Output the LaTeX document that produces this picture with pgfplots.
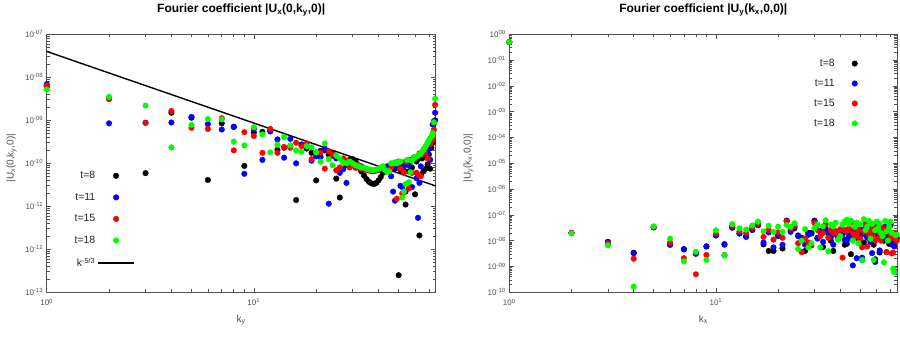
\documentclass[border=0pt]{standalone}
\usepackage{fontspec}
\setmainfont{Liberation Sans}
\usepackage{pgfplots}
\usepackage{pgfplotstable}
\pgfplotsset{compat=1.18}

\definecolor{axgray}{RGB}{80,80,80}
\definecolor{ptgreen}{RGB}{0,255,0}
\definecolor{ptblue}{RGB}{0,0,255}
\definecolor{ptred}{RGB}{255,0,0}

% |U_x(0,k_y,0)|
\pgfplotstableread{
k bk bl rd gr
1 6.2e-9 6.9e-9 6.4e-9 5.2e-9
2 3.3e-9 8.5e-10 3.1e-9 3.5e-9
3 5.9e-11 8.8e-10 8.7e-10 2.2e-9
4 1.5e-9 8.9e-10 1.65e-9 2.35e-10
5 1.15e-9 1.2e-9 6.7e-10 7.8e-10
6 4.1e-11 8.1e-10 6.3e-10 1.07e-9
7 8.5e-10 6.1e-10 1.12e-9 1.05e-9
8 7.0e-10 7.1e-10 2.0e-10 3.2e-10
9 8.7e-11 5.7e-11 5.3e-10 2.6e-10
10 5.2e-10 6.3e-10 4.3e-10 6.9e-10
11 5.4e-10 1.2e-10 1.75e-10 4.7e-10
12 5.8e-10 5.5e-10 6.3e-10 1.8e-10
13 2.05e-10 3.6e-10 1.75e-10 2.7e-10
14 2.3e-10 1.35e-10 2.4e-10 4.1e-10
15 2.5e-10 3.7e-10 2.3e-10 2.6e-10
16 1.4e-11 1.0e-10 3.0e-10 2.0e-10
17 2.6e-10 2.75e-10 2.5e-10 1.85e-10
18 2.2e-10 2.4e-10 2.9e-10 2.5e-10
19 1.75e-10 1.15e-10 1.25e-10 2.35e-10
20 4.0e-11 1.45e-10 1.8e-10 1.8e-10
21 1.95e-10 1.4e-10 1.8e-10 1.1e-10
22 2.0e-10 2.2e-10 7.5e-11 2.9e-10
23 1.6e-10 1.15e-11 1.9e-10 1.25e-10
24 1.7e-10 1.5e-10 1.6e-10 9.0e-11
25 4.4e-11 1.3e-10 6.9e-11 1.5e-10
26 1.6e-11 6.0e-11 8.0e-11 1.3e-10
27 1.25e-10 7.3e-11 1.3e-10 1.05e-10
28 9.0e-11 3.5e-11 1.15e-10 1.0e-10
29 1.2e-10 1.0e-10 8.0e-11 1.1e-10
30 1.25e-10 9.0e-11 9.5e-11 1.0e-10
31 1.1e-10 8.5e-11 7.8e-11 9.0e-11
32 9.0e-11 8.0e-11 9.0e-11 8.5e-11
33 6.5e-11 8.5e-11 7.5e-11 8.0e-11
34 5.2e-11 7.5e-11 7.5e-11 8.0e-11
35 4.3e-11 7.0e-11 7.0e-11 7.5e-11
36 3.7e-11 6.8e-11 7.0e-11 7.2e-11
37 3.4e-11 6.6e-11 6.8e-11 7.0e-11
38 3.3e-11 6.6e-11 6.8e-11 7.0e-11
39 3.5e-11 6.8e-11 7.0e-11 7.2e-11
40 4.0e-11 7.0e-11 7.2e-11 7.5e-11
41 4.8e-11 7.4e-11 7.8e-11 8.0e-11
42 6.0e-11 7.8e-11 8.0e-11 8.5e-11
43 7.2e-11 8.2e-11 7.0e-11 7.0e-11
44 8.0e-11 8.5e-11 6.5e-11 6.3e-11
45 8.5e-11 8.0e-11 7.0e-11 6.5e-11
46 9.0e-11 5.0e-11 8.0e-11 1.0e-10
47 9.0e-11 2.2e-11 9.5e-11 1.0e-10
48 7.5e-11 1.35e-11 1.0e-10 1.05e-10
49 8.5e-11 8.0e-11 1.5e-11 1.0e-10
50 2.5e-13 9.5e-11 1.1e-10 1.05e-10
51 7.0e-11 3.0e-11 7.5e-11 1.1e-10
52 9.5e-11 2.8e-11 2.0e-11 1.6e-11
53 6.8e-11 8.5e-11 6.0e-11 2.2e-11
54 1.1e-11 2.2e-11 1.1e-10 3.3e-11
55 1.15e-10 1.0e-10 1.1e-10 1.2e-10
56 6.5e-11 9.0e-11 2.6e-11 3.6e-11
57 1.1e-10 1.15e-10 1.2e-10 6.2e-11
58 8.0e-11 2.8e-11 6.0e-11 1.15e-10
59 1.2e-10 1.3e-10 1.35e-10 1.3e-10
60 1.9e-11 1.4e-10 1.25e-10 1.4e-10
61 1.1e-10 4.5e-11 6.0e-11 1.45e-10
62 1.25e-10 5.4e-12 5.5e-11 1.5e-10
63 2.1e-12 3.5e-11 1.7e-10 1.6e-10
64 5.5e-11 8.5e-11 5.0e-11 1.7e-10
65 1.3e-10 1.75e-10 1.6e-10 1.9e-10
66 6.5e-11 1.6e-10 2.0e-10 2.1e-10
67 1.5e-10 2.2e-10 1.8e-10 2.3e-10
68 7.6e-11 2.3e-10 2.6e-10 2.6e-10
69 9.5e-11 1.8e-10 1.3e-10 3.0e-10
70 1.6e-10 2.2e-10 3.0e-10 3.4e-10
71 7.5e-11 1.2e-10 2.8e-10 3.8e-10
72 2.3e-10 3.2e-10 3.3e-10 4.2e-10
73 3.0e-10 8.0e-10 3.5e-10 5.0e-10
74 8.5e-10 9.5e-10 6.0e-10 9.0e-10
75 1.0e-9 1.5e-9 2.3e-9 3.2e-9
}\ux

% |U_y(k_x,0,0)|
\pgfplotstableread{
k bk bl rd gr
1 0.5 0.5 0.5 0.5
2 2.0e-8 2.0e-8 2.0e-8 1.9e-8
3 9.0e-9 8.9e-9 7.9e-9 6.6e-9
4 3.4e-9 3.3e-9 2.0e-9 1.65e-10
5 3.3e-8 3.3e-8 3.4e-8 3.6e-8
6 7.0e-9 7.0e-9 8.5e-9 1.2e-8
7 4.7e-9 4.6e-9 2.1e-9 1.6e-9
8 3.3e-9 3.1e-9 5.0e-10 3.7e-9
9 6.0e-9 6.0e-9 2.8e-9 1.8e-9
10 1.6e-8 1.6e-8 1.9e-8 2.5e-8
11 7.3e-9 7.0e-9 2.8e-9 2.7e-9
12 3.2e-8 3.3e-8 3.8e-8 4.4e-8
13 1.9e-8 1.9e-8 2.3e-8 3.0e-8
14 1.5e-8 1.4e-8 2.0e-8 2.7e-8
15 2.6e-8 2.7e-8 3.2e-8 3.9e-8
16 4.0e-8 4.2e-8 4.6e-8 5.5e-8
17 7.2e-9 8.5e-9 1.4e-8 2.3e-8
18 4.0e-9 2.1e-8 2.6e-8 3.8e-8
19 4.0e-9 5.5e-9 1.1e-8 2.2e-8
20 1.5e-8 1.6e-8 2.1e-8 3.5e-8
21 5.0e-9 7.0e-9 1.3e-8 2.2e-8
22 6.0e-8 5.8e-8 5.5e-8 4.0e-8
23 2.5e-8 2.2e-8 3.0e-8 3.5e-8
24 3.5e-8 3.0e-8 3.8e-8 4.8e-8
25 1.6e-8 1.5e-8 8.0e-9 4.8e-9
26 1.3e-8 1.1e-8 3.6e-9 1.0e-8
27 4.0e-9 7.0e-9 1.2e-8 2.8e-8
28 2.0e-8 1.7e-8 8.5e-9 5.5e-9
29 2.0e-8 1.9e-8 6.5e-9 8.0e-9
30 6.0e-8 5.5e-8 4.8e-8 3.0e-8
31 1.3e-8 1.2e-8 2.6e-8 4.2e-8
32 2.2e-8 2.4e-8 1.5e-8 5.5e-9
33 5.7e-9 9.0e-9 2.0e-8 3.6e-8
34 2.6e-8 2.9e-8 4.5e-8 6.2e-8
35 1.9e-8 2.2e-8 1.3e-8 3.9e-9
36 1.0e-8 1.4e-8 2.6e-8 4.2e-8
37 4.0e-9 7.0e-9 2.0e-8 3.6e-8
38 2.2e-8 1.8e-8 2.4e-8 5.0e-8
39 1.2e-8 1.5e-8 1.8e-8 1.1e-8
40 2.0e-8 2.3e-8 2.8e-8 1.5e-8
41 1.7e-8 1.9e-8 2.2e-9 4.2e-8
42 7.0e-9 1.1e-8 2.6e-8 5.6e-8
43 7.5e-9 1.0e-8 2.3e-8 6.5e-8
44 2.0e-8 1.4e-8 3.0e-8 4.5e-8
45 3.0e-9 2.5e-8 5.0e-8 6.0e-8
46 1.7e-8 1.1e-9 2.0e-8 1.0e-8
47 2.6e-8 2.1e-8 1.4e-8 3.4e-8
48 1.3e-8 2.1e-9 1.8e-8 5.0e-8
49 2.1e-8 1.6e-8 2.5e-8 8.0e-9
50 2.4e-8 2.7e-8 1.2e-8 4.3e-8
51 1.8e-9 2.2e-9 5.5e-9 1.8e-9
52 8.5e-9 1.8e-8 2.2e-8 6.8e-8
53 2.5e-8 3.2e-8 4.5e-8 2.6e-8
54 1.5e-8 1.3e-8 6.0e-9 3.5e-8
55 3.0e-8 2.8e-8 1.8e-8 5.8e-8
56 1.1e-8 9.0e-9 2.4e-8 1.2e-8
57 2.0e-8 3.3e-9 1.5e-8 4.5e-8
58 7.0e-9 2.4e-8 3.0e-8 1.8e-9
59 1.9e-9 1.5e-9 1.0e-8 2.5e-8
60 2.2e-8 2.8e-8 3.5e-8 5.5e-8
61 1.5e-8 1.8e-8 1.2e-8 3.0e-8
62 3.5e-9 4.2e-9 2.0e-8 4.6e-8
63 2.4e-8 2.2e-8 1.0e-8 2.0e-8
64 1.6e-8 1.2e-8 3.2e-8 1.5e-8
65 1.0e-8 2.5e-8 1.7e-8 1.45e-9
66 3.0e-8 3.5e-8 2.5e-8 5.8e-8
67 3.6e-9 1.4e-8 3.6e-9 2.3e-8
68 1.8e-8 2.0e-8 2.8e-8 1.0e-8
69 7.5e-9 1.6e-8 1.1e-8 3.5e-8
70 4.0e-8 4.5e-8 1.5e-8 5.5e-8
71 1.1e-8 9.0e-9 3.2e-9 2.0e-8
72 7.5e-9 6.5e-9 3.5e-9 8.3e-10
73 2.0e-8 6.0e-9 1.2e-8 6.0e-10
74 1.4e-8 1.6e-8 2.0e-8 1.6e-8
75 1.2e-8 1.3e-8 1.0e-8 1.7e-8
}\uy

\pgfplotsset{
  every axis/.append style={
    scale only axis, height=258pt,
    xmin=1, xmax=75.5, clip=false,
    xtick={1,10}, xticklabels={10\textsuperscript{0},10\textsuperscript{1}},
    minor xtick={2,3,4,5,6,7,8,9,20,30,40,50,60,70},
    tick label style={font=\fontsize{8}{9}\selectfont, text=axgray},
    xticklabel style={yshift=-3pt},
    axis line style={axgray, line width=0.8pt},
    every tick/.style={axgray, line width=0.6pt},
    title style={font=\fontsize{12}{14}\selectfont\bfseries, at={(0.5,1)}, anchor=base, inner sep=0pt, yshift=16pt},
    xlabel style={font=\fontsize{10}{12}\selectfont, text=axgray, at={(0.5,0)}, anchor=base, inner sep=0pt, yshift=-30pt},
    ylabel style={font=\fontsize{10}{12}\selectfont, text=axgray, anchor=base, inner sep=0pt},
    legend style={draw=none, fill=none, font=\fontsize{10.5}{12}\selectfont, text=black!85},
    legend cell align=right,
    legend plot pos=right,
  },
  dots/.style={only marks, mark=*, mark size=2.8pt, color=#1, mark options={draw=#1, fill=#1},
    legend image code/.code={\path[draw=none, fill=none] (0pt,-1pt) rectangle (36pt,1pt); \draw[##1] plot coordinates {(18pt,0pt)};}},
  lineleg/.style={legend image code/.code={\draw[##1, line width=1.6pt] (0pt,0pt) -- (36pt,0pt);}},
}

\begin{document}
\begin{tikzpicture}
\path[use as bounding box] (0pt,-339pt) rectangle (900pt,0pt);

\begin{loglogaxis}[at={(46.7pt,-34.3pt)}, anchor=north west, width=389pt,
  ymin=1e-13, ymax=1e-7,
  ytick={1e-13,1e-12,1e-11,1e-10,1e-9,1e-8,1e-7},
  yticklabels={10\textsuperscript{-13},10\textsuperscript{-12},10\textsuperscript{-11},10\textsuperscript{-10},10\textsuperscript{-09},10\textsuperscript{-08},10\textsuperscript{-07}},
  title={Fourier coefficient |U\textsubscript{x}(0,k\textsubscript{y},0)|},
  xlabel={k\textsubscript{y}},
  ylabel={|U\textsubscript{x}(0,k\textsubscript{y},0)|},
  ylabel style={at={(axis description cs:-0.085,0.52)}},
  legend style={at={(axis description cs:0.235,0.485)}, anchor=north east, row sep=8.8pt},
]
\addplot[dots=black] table[x=k, y=bk]{\ux}; \addlegendentry{t=8}
\addplot[dots=ptblue] table[x=k, y=bl]{\ux}; \addlegendentry{t=11}
\addplot[dots=ptred] table[x=k, y=rd]{\ux}; \addlegendentry{t=15}
\addplot[dots=ptgreen] table[x=k, y=gr]{\ux}; \addlegendentry{t=18}
\addplot[black, line width=1.4pt, lineleg] coordinates {(1,4e-8) (75.5,2.97e-11)};
\addlegendentry{k\textsuperscript{-5/3}}
\end{loglogaxis}

\begin{loglogaxis}[at={(509.3pt,-34.3pt)}, anchor=north west, width=388pt,
  ymin=1e-10, ymax=1,
  ytick={1e-10,1e-9,1e-8,1e-7,1e-6,1e-5,1e-4,1e-3,1e-2,1e-1,1},
  yticklabels={10\textsuperscript{-10},10\textsuperscript{-09},10\textsuperscript{-08},10\textsuperscript{-07},10\textsuperscript{-06},10\textsuperscript{-05},10\textsuperscript{-04},10\textsuperscript{-03},10\textsuperscript{-02},10\textsuperscript{-01},10\textsuperscript{00}},
  title={Fourier coefficient |U\textsubscript{y}(k\textsubscript{x},0,0)|},
  xlabel={k\textsubscript{x}},
  ylabel={|U\textsubscript{y}(k\textsubscript{x},0,0)|},
  ylabel style={at={(axis description cs:-0.1,0.52)}},
  legend style={at={(axis description cs:0.945,0.92)}, anchor=north east, row sep=7.2pt},
]
\addplot[dots=black] table[x=k, y=bk]{\uy}; \addlegendentry{t=8}
\addplot[dots=ptblue] table[x=k, y=bl]{\uy}; \addlegendentry{t=11}
\addplot[dots=ptred] table[x=k, y=rd]{\uy}; \addlegendentry{t=15}
\addplot[dots=ptgreen] table[x=k, y=gr]{\uy}; \addlegendentry{t=18}
\end{loglogaxis}
\end{tikzpicture}
\end{document}
